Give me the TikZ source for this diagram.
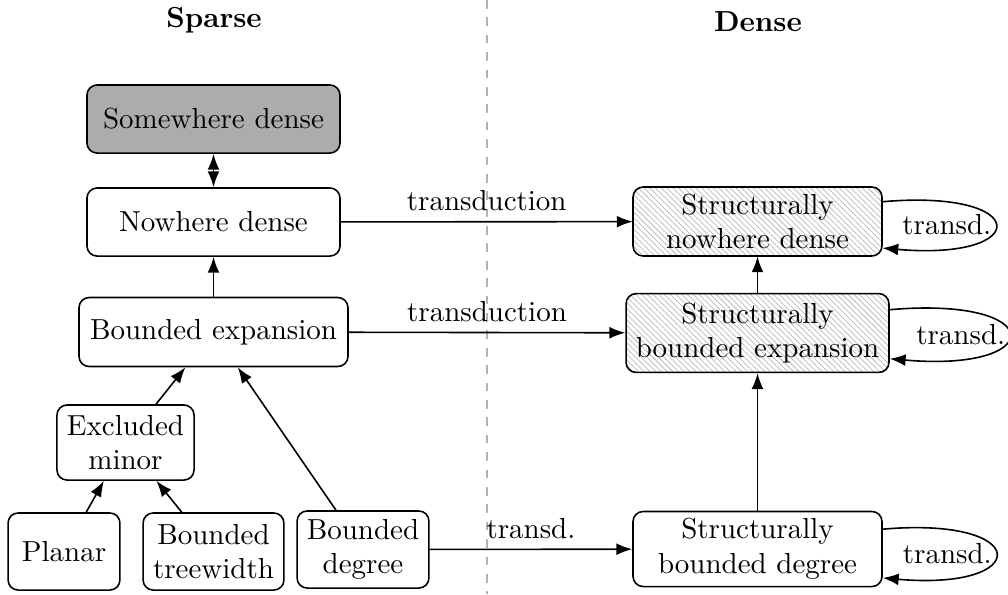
\documentclass[tikz,border=0pt]{standalone}
\usepackage{amsmath,amssymb}
\usepackage{tikz}
\usetikzlibrary{shapes}
\usetikzlibrary{positioning}
\usetikzlibrary{arrows.meta}
\usetikzlibrary{patterns.meta}

\tikzset{
  box/.style={draw, rounded corners=3.5pt, align=center, inner sep=1pt},
  hatched/.style={box, pattern={Lines[angle=-45,distance=1.4pt,line width=0.25pt]}, pattern color=gray!55},
  title/.style={font=\bfseries},
}

\begin{document}
\begin{tikzpicture}[->, >={Latex}, line width=0.55pt, x=0.345pt, y=-0.345pt]
        \useasboundingbox (0,0) rectangle (1008,594);
        \draw[-, dashed, gray!60] (487,0) -- (487,594);

        \node[title] (sparse) at (214,20) {Sparse};
        \node[title] (dense) at (758,22) {Dense};

        % sparse side
        \node[box, fill=gray!65, minimum width=87.3pt, minimum height=23.5pt] (swd) at (213.5,119) {Somewhere dense};
        \node[box, minimum width=87.3pt, minimum height=23.5pt] (nd) at (213.5,222) {Nowhere dense};
        \node[box, minimum width=92.8pt, minimum height=23.8pt] (be) at (213.5,332) {Bounded expansion};
        \node[box, minimum width=47.3pt, minimum height=25.9pt] (em) at (125.5,442.5) {Excluded\\minor};
        \node[box, minimum width=38.6pt, minimum height=26.6pt] (pl) at (64,551.5) {Planar};
        \node[box, minimum width=48.6pt, minimum height=26.6pt] (bt) at (213.5,551.5) {Bounded\\treewidth};
        \node[box, minimum width=45.5pt, minimum height=26.6pt] (bd) at (363,549.5) {Bounded\\degree};

        % dense side
        \node[hatched, minimum width=85.9pt, minimum height=23.8pt] (snd) at (757.5,221.5) {Structurally\\nowhere dense};
        \node[hatched, minimum width=90.7pt, minimum height=27.2pt] (sbe) at (757.5,333) {Structurally\\bounded expansion};
        \node[box, minimum width=85.9pt, minimum height=25.9pt] (sbd) at (757.5,549) {Structurally\\bounded degree};

        \draw[<->, dashed] (swd) -- (nd);
        \draw (be) edge (nd);
        \draw (em) edge (be);
        \draw (bd) edge (be);
        \draw (pl) edge (em);
        \draw (bt) edge (em);
        \draw (sbe) edge (snd);
        \draw (sbd) edge (sbe);

        \draw (nd) edge [above] node {transduction} (snd);
        \draw (be) edge [above] node {transduction} (sbe);
        \draw (bd) edge [above] node {transd.} (sbd);

        \draw (snd.9) .. controls +(5:52pt) and +(-5:52pt) .. node[left, inner sep=1pt] {transd.} (snd.-12);
        \draw (sbe.10) .. controls +(5:55pt) and +(-5:55pt) .. node[left, inner sep=1pt] {transd.} (sbe.-11);
        \draw (sbd.9) .. controls +(5:52pt) and +(-5:52pt) .. node[left, inner sep=1pt] {transd.} (sbd.-13);
\end{tikzpicture}
\end{document}
